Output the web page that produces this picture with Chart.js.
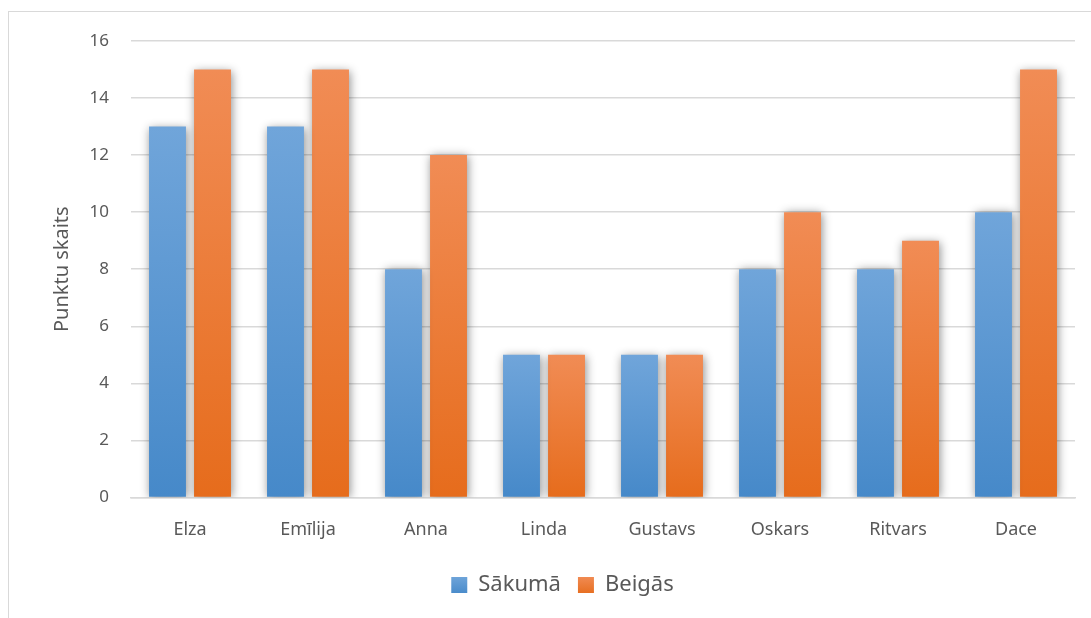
<!DOCTYPE html>
<html>
<head>
<meta charset="utf-8">
<script src="https://cdn.jsdelivr.net/npm/chart.js@4"></script>
<style>
  html, body { margin: 0; padding: 0; background: #fff; }
  #wrap { position: relative; width: 1091px; height: 618px; overflow: hidden; }
  #frame { position: absolute; left: 8px; top: 11px; width: 1200px; height: 700px; border: 1px solid #d9d9d9; box-sizing: border-box; }
  canvas { position: absolute; left: 0; top: 0; }
</style>
</head>
<body>
<div id="wrap">
  <div id="frame"></div>
  <canvas id="myChart" width="1091" height="618"></canvas>
</div>
<script>
var names = ['Elza', 'Emīlija', 'Anna', 'Linda', 'Gustavs', 'Oskars', 'Ritvars', 'Dace'];
var sakuma = [13, 13, 8, 5, 5, 8, 8, 10];
var beigas = [15, 15, 12, 5, 5, 10, 9, 15];
var yTicks = [0, 2, 4, 6, 8, 10, 12, 14, 16];

var fontName = '"Noto Sans", "Open Sans", sans-serif';

// gradient per bar, from its top down to zero
function barGradient(top, bottom) {
    return function (context) {
        var chart = context.chart;
        var y = chart.scales.y;
        if (!y || context.parsed == null) return bottom;
        var y0 = y.getPixelForValue(0);
        var y1 = y.getPixelForValue(context.parsed.y);
        if (!isFinite(y0) || !isFinite(y1) || y0 === y1) return bottom;
        var g = chart.ctx.createLinearGradient(0, y1, 0, y0);
        g.addColorStop(0, top);
        g.addColorStop(1, bottom);
        return g;
    };
}

var shadowPlugin = {
    id: 'barShadow',
    beforeDatasetDraw: function (chart) {
        var ctx = chart.ctx;
        ctx.save();
        ctx.shadowColor = 'rgba(0,0,0,0.45)';
        ctx.shadowBlur = 9;
        ctx.shadowOffsetX = 1;
        ctx.shadowOffsetY = 1;
    },
    afterDatasetDraw: function (chart) {
        chart.ctx.restore();
    }
};

var ctx = document.getElementById('myChart').getContext('2d');
var myChart = new Chart(ctx, {
    type: 'bar',
    data: {
        labels: names,
        datasets: [{
            label: 'Sākumā',
            data: sakuma,
            backgroundColor: barGradient('#70a5da', '#4689c9'),
            categoryPercentage: 0.763,
            barPercentage: 0.82
        }, {
            label: 'Beigās',
            data: beigas,
            backgroundColor: barGradient('#f18c55', '#e66c1c'),
            categoryPercentage: 0.763,
            barPercentage: 0.82
        }]
    },
    plugins: [shadowPlugin],
    options: {
        responsive: false,
        animation: false,
        layout: {
            padding: { left: 50, right: 16, top: 41, bottom: 12 }
        },
        plugins: {
            legend: {
                position: 'bottom',
                labels: {
                    color: '#595959',
                    font: { family: fontName, size: 22 },
                    boxWidth: 16,
                    boxHeight: 16,
                    padding: 17,
                    generateLabels: function (chart) {
                        var cols = [['#70a5da', '#4689c9'], ['#f18c55', '#e66c1c']];
                        return chart.data.datasets.map(function (ds, i) {
                            var g = chart.ctx.createLinearGradient(0, 576, 0, 595);
                            g.addColorStop(0, cols[i][0]);
                            g.addColorStop(1, cols[i][1]);
                            return {
                                text: ds.label,
                                fillStyle: g,
                                strokeStyle: 'rgba(0,0,0,0)',
                                lineWidth: 0,
                                fontColor: '#595959',
                                datasetIndex: i
                            };
                        });
                    }
                }
            },
            tooltip: { enabled: false }
        },
        scales: {
            x: {
                afterFit: function (axis) { axis.height = axis.height - 6; },
                grid: { display: false, drawTicks: false },
                border: { color: '#d9d9d9', width: 1.5 },
                ticks: {
                    color: '#595959',
                    font: { family: fontName, size: 18 },
                    padding: 22
                }
            },
            y: {
                min: 0,
                max: 16,
                afterBuildTicks: function (axis) {
                    axis.ticks = yTicks.map(function (v) { return { value: v }; });
                },
                afterFit: function (axis) { axis.width = 81; },
                grid: { color: '#d9d9d9', lineWidth: 1.5, drawTicks: false },
                border: { display: false },
                ticks: {
                    color: '#595959',
                    font: { family: fontName, size: 17 },
                    padding: 22
                },
                title: {
                    display: true,
                    text: 'Punktu skaits',
                    color: '#595959',
                    font: { family: fontName, size: 20 },
                    padding: 0
                }
            }
        }
    }
});
</script>
</body>
</html>
